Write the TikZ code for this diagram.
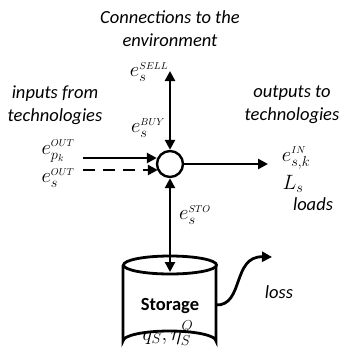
\documentclass[tikz,border=0pt]{standalone}
\usepackage{fontspec}
\setmainfont{Carlito}
\usetikzlibrary{arrows.meta}
\tikzset{
  flow/.style={line width=2.8pt, -{Triangle[length=10pt,width=10pt]}},
  bflow/.style={line width=2.8pt, {Triangle[length=10pt,width=10pt]}-{Triangle[length=10pt,width=10pt]}},
  lbl/.style={font=\fontsize{18.5}{23}\selectfont\itshape, align=center, inner sep=0pt},
  mlbl/.style={font=\fontsize{20}{22}\selectfont, inner sep=0pt},
  outline/.style={line width=2.8pt}
}
\begin{document}
\begin{tikzpicture}[x=1pt,y=-1pt]
\useasboundingbox (0,0) rectangle (343,356);
% hub
\node[circle, draw, line width=2.4pt, fill=white, minimum size=26pt, inner sep=0pt] (hub) at (170,164) {};
\coordinate (top) at (170,71);
\coordinate (inA) at (83,158);
\coordinate (inB) at (83,170);
\coordinate (outR) at (268,164);
\coordinate (stotop) at (170,272);
\coordinate (storight) at (216,305);
\coordinate (losstip) at (272,257);
% texts
\node[lbl] (conn) at (170,29) {Connections to the\\environment};
\node[lbl] (inp) at (55,105) {inputs from\\technologies};
\node[lbl] (outp) at (292,105) {outputs to\\technologies};
\node[mlbl] (esell) at (149,72) {$e_s^{\scriptscriptstyle SELL}$};
\node[mlbl] (ebuy) at (148,128) {$e_s^{\scriptscriptstyle BUY}$};
\node[mlbl] (epk) at (58,151) {$e_{p_k}^{\scriptscriptstyle OUT}$};
\node[mlbl] (esout) at (58,178) {$e_s^{\scriptscriptstyle OUT}$};
\node[mlbl] (ein) at (296,158) {$e_{s,k}^{\scriptscriptstyle IN}$};
\node[mlbl] (ls) at (293,184) {$L_s$};
\node[lbl] (loads) at (313,204) {loads};
\node[mlbl] (esto) at (195,215) {$e_s^{\scriptscriptstyle STO}$};
\node[lbl] (loss) at (279,292) {loss};
% connectors
\draw[bflow] (top) -- (hub.north);
\draw[flow] (inA) -- ([xshift=1pt]hub.west |- inA);
\draw[flow, dash pattern=on 12pt off 8pt] (inB) -- ([xshift=2pt]hub.west |- inB);
\draw[flow] (hub.east) -- (outR);
% storage cylinder
\draw[outline, fill=white] (123,265) -- (123,341) arc[start angle=180, end angle=360, x radius=46.5, y radius=10] -- (216,265);
\draw[outline, fill=white] (170,265) ellipse[x radius=46.5, y radius=9];
\draw[bflow] (hub.south) -- (stotop);
\draw[flow] (storight) .. controls (244,306) and (232,256) .. (losstip);
\node[font=\fontsize{18.5}{22}\selectfont\bfseries, inner sep=0pt] (stor) at (170,306) {Storage};
\node[mlbl] (qs) at (168,333) {$q_S, \eta_S^Q$};
\end{tikzpicture}
\end{document}
